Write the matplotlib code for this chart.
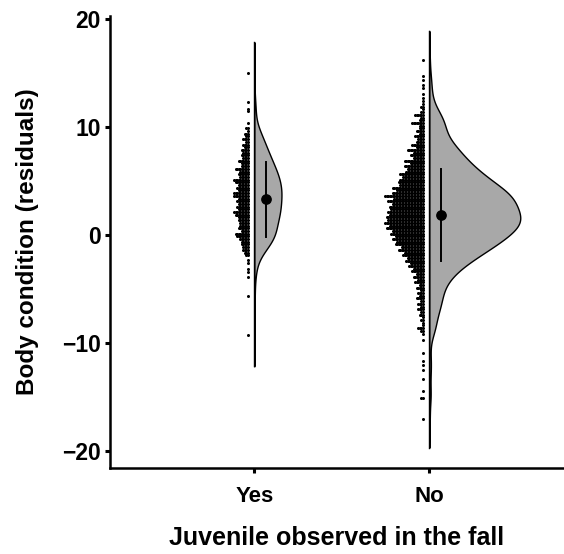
import numpy as np
import matplotlib
matplotlib.use("Agg")
import matplotlib.pyplot as plt

plt.rcParams['font.family'] = ['Liberation Sans', 'DejaVu Sans']

# ---------------- data ----------------
categories = ['Yes', 'No']
bin_width = 0.25

# Yes: dot-histogram counts per 0.25 bin, from the top bin (9.875) downwards
yes_top_bin = 9.875
yes_counts = [2, 1, 3, 2, 4, 2, 4, 3, 5, 4,
              5, 4, 7, 5, 5, 9, 6, 7, 6, 10,
              9, 7, 8, 7, 10, 10, 7, 8, 7, 8,
              7, 10, 9, 7, 7, 6, 6, 7, 5, 9,
              8, 6, 5, 5, 4, 4, 3, 2]
yes_extra = [15.0, 12.3, 11.7, 11.5, 10.4, -2.3, -2.6, -3.1, -3.4, -3.9, -5.6, -9.3]
yes_extra_n = [1, 1, 1, 1, 1, 1, 1, 1, 1, 1, 1, 1]

# No: dot-histogram counts per 0.25 bin, from the top bin (12.125) downwards
no_top_bin = 12.125
no_counts = [1, 2, 1, 2, 6, 2, 3, 8, 3, 3,
             5, 3, 6, 4, 5, 8, 5, 11, 7, 9,
             7, 13, 9, 13, 11, 12, 16, 14, 16, 17,
             16, 21, 18, 21, 26, 20, 24, 21, 23, 22,
             24, 23, 25, 24, 26, 23, 25, 21, 22, 19,
             21, 18, 19, 15, 17, 13, 14, 11, 12, 9,
             10, 7, 8, 5, 7, 4, 6, 3, 5, 2,
             4, 3, 5, 2, 4, 2, 4, 2, 3, 1,
             2, 1, 1, 4, 2, 1]
no_extra = [16.2, 14.7, 14.4, 13.9, 13.6, 13.1, 12.7, 12.4, -9.7, -10.9, -11.7,
            -12.0, -12.5, -13.3, -14.4, -15.05, -17.0]
no_extra_n = [1, 1, 1, 1, 1, 1, 1, 1, 1, 1, 1, 1, 1, 1, 1, 2, 1]

# mean and sd shown by point + line
means = [3.3, 1.85]
sds = [3.5, 4.3]

# ---------------- styling ----------------
VIOLIN_FILL = '#a8a8a8'
VIOLIN_MAX_W = [0.155, 0.52]
DOT_GAP = 0.037
DOT_STEP = 0.0086
POINT_OFFSET = 0.065

fig = plt.figure(figsize=(5.64, 5.54), dpi=100)
ax = fig.add_axes([110 / 564, 1 - 468 / 554, 1 - 110 / 564, (468 - 16) / 554])

groups = [
    (yes_top_bin, yes_counts, yes_extra, yes_extra_n),
    (no_top_bin, no_counts, no_extra, no_extra_n),
]

for i, (top, counts, extra, extra_n) in enumerate(groups):
    pos = i + 1
    centers = top - bin_width * np.arange(len(counts))
    vals = np.concatenate([centers, np.array(extra)])
    wts = np.concatenate([np.array(counts), np.array(extra_n)]).astype(int)
    data = np.repeat(vals, wts)
    n = len(data)
    sd = data.std(ddof=1)
    iqr = np.subtract(*np.percentile(data, [75, 25]))
    bw = 0.9 * min(sd, iqr / 1.34) * n ** -0.2
    grid = np.linspace(data.min() - 3 * bw, data.max() + 3 * bw, 512)
    dens = np.exp(-0.5 * ((grid[:, None] - data[None, :]) / bw) ** 2).sum(1)
    w = dens / dens.max() * VIOLIN_MAX_W[i]

    ax.fill_betweenx(grid, pos, pos + w, facecolor=VIOLIN_FILL,
                     edgecolor='black', linewidth=1.0, zorder=2)
    ax.plot([pos, pos], [grid[0], grid[-1]], color='black', lw=1.0, zorder=3)

    xs, ys = [], []
    for v, c in zip(vals, wts):
        for k in range(c):
            xs.append(pos - DOT_GAP - DOT_STEP * k)
            ys.append(v)
    ax.scatter(xs, ys, s=4.8, c='black', linewidths=0, zorder=3)

    ax.plot([pos + POINT_OFFSET] * 2, [means[i] - sds[i], means[i] + sds[i]],
            color='black', lw=1.4, zorder=4)
    ax.scatter([pos + POINT_OFFSET], [means[i]], s=45, c='black', zorder=5)

ax.set_xlim(0.175, 2.77)
ax.set_ylim(-21.57, 20.28)
ax.set_xticks([1, 2])
ax.set_xticklabels(categories)
ax.set_yticks([-20, -10, 0, 10, 20])
ax.set_yticklabels(['\u221220', '\u221210', '0', '10', '20'])

for s in ['top', 'right']:
    ax.spines[s].set_visible(False)
for s in ['left', 'bottom']:
    ax.spines[s].set_linewidth(1.8)
ax.tick_params(length=3.6, width=2.2, pad=3)
ax.tick_params(axis='y', labelsize=16.5)
ax.tick_params(axis='x', labelsize=16, pad=9.5)
for lab in ax.get_xticklabels() + ax.get_yticklabels():
    lab.set_fontweight('bold')

ax.set_xlabel('Juvenile observed in the fall', fontsize=18, fontweight='bold')
ax.xaxis.set_label_coords(0.5, -(526 - 468) / 452)
ax.xaxis.label.set_va('top')
ax.set_ylabel('Body condition (residuals)', fontsize=17.5, fontweight='bold')
ax.yaxis.set_label_coords(-(110 - 28) / 454, 0.5)
ax.yaxis.label.set_va('center')

fig.savefig('out.png', dpi=100)
